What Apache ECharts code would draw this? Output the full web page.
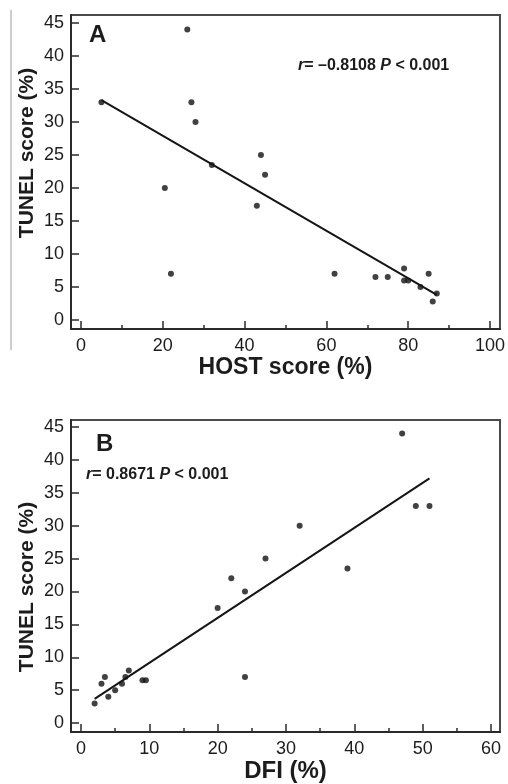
<!DOCTYPE html>
<html>
<head>
<meta charset="utf-8">
<script src="https://cdn.jsdelivr.net/npm/echarts@6/dist/echarts.min.js"></script>
<style>
  html, body { margin: 0; padding: 0; background: #fff; }
  #chart { width: 508px; height: 784px; }
</style>
</head>
<body>
<div id="chart"></div>
<script>
// Panel A: HOST score against TUNEL score
const hostScore   = [5, 26, 27, 28, 32, 44, 45, 20.5, 43, 22, 62, 72, 75, 79, 79, 80, 83, 85, 87, 86];
const tunelScoreA = [33, 44, 33, 30, 23.5, 25, 22, 20, 17.3, 7, 7, 6.5, 6.5, 7.8, 6, 6, 5, 7, 4, 2.8];
const fitHostX = [5, 87];
const fitHostY = [33.3, 3.8];

// Panel B: DFI against TUNEL score
const dfi         = [47, 49, 51, 32, 27, 39, 22, 24, 20, 24, 2, 3, 3.5, 4, 5, 6, 6.5, 7, 9, 9.5];
const tunelScoreB = [44, 33, 33, 30, 25, 23.5, 22, 20, 17.5, 7, 3, 6, 7, 4, 5, 6, 7, 8, 6.5, 6.5];
const fitDfiX = [2, 51];
const fitDfiY = [3.7, 37.2];

// Tick positions
const tunelTicks  = [0, 5, 10, 15, 20, 25, 30, 35, 40, 45];
const hostTicks   = [0, 20, 40, 60, 80, 100];
const hostMinor   = [10, 30, 50, 70, 90];
const dfiTicks    = [0, 10, 20, 30, 40, 50, 60];
const dfiMinor    = [5, 15, 25, 35, 45, 55];

const FONT = "'Liberation Sans', Arial, Helvetica, sans-serif";
const INK = '#1c1c1c';

const zip = (xs, ys) => xs.map((x, i) => [x, ys[i]]);

function majorX(gridIndex, min, max, ticks) {
  return {
    type: 'value', gridIndex, min, max, position: 'bottom',
    splitLine: { show: false },
    axisLine: { show: true, onZero: false, lineStyle: { color: '#2a2a2a', width: 2 } },
    axisTick: { show: true, inside: true, length: 8, customValues: ticks,
                lineStyle: { color: '#2a2a2a', width: 1.5 } },
    axisLabel: { show: true, customValues: ticks, margin: 8,
                 color: INK, fontFamily: FONT, fontSize: 18 }
  };
}
function minorX(gridIndex, min, max, ticks) {
  return {
    type: 'value', gridIndex, min, max, position: 'bottom', offset: 0,
    splitLine: { show: false },
    axisLine: { show: false, onZero: false },
    axisTick: { show: true, inside: true, length: 4, customValues: ticks,
                lineStyle: { color: '#2a2a2a', width: 1.5 } },
    axisLabel: { show: false }
  };
}
function tunelY(gridIndex, min, max) {
  return {
    type: 'value', gridIndex, min, max,
    splitLine: { show: false },
    axisLine: { show: true, onZero: false, lineStyle: { color: '#2a2a2a', width: 2 } },
    axisTick: { show: true, inside: true, length: 8, customValues: tunelTicks,
                lineStyle: { color: '#2a2a2a', width: 1.5 } },
    axisLabel: { show: true, customValues: tunelTicks, margin: 7,
                 color: INK, fontFamily: FONT, fontSize: 18 }
  };
}

const dot = { color: '#111' };
const fitStyle = { color: '#151515', width: 2 };
const titleStyle = { color: INK, fontFamily: FONT, fontSize: 23, fontWeight: 'bold' };

const option = {
  animation: false,
  backgroundColor: '#fff',
  grid: [
    { left: 71, top: 15, width: 430, height: 314, show: true,
      borderColor: '#4a4a4a', borderWidth: 2, backgroundColor: 'transparent' },
    { left: 71, top: 420, width: 429, height: 313, show: true,
      borderColor: '#4a4a4a', borderWidth: 2, backgroundColor: 'transparent' }
  ],
  xAxis: [
    Object.assign(majorX(0, -2.44, 102.44, hostTicks), {
      name: 'HOST score (%)', nameLocation: 'middle', nameGap: 26, nameTextStyle: titleStyle
    }),
    minorX(0, -2.44, 102.44, hostMinor),
    Object.assign(majorX(1, -1.46, 61.32, dfiTicks), {
      name: 'DFI (%)', nameLocation: 'middle', nameGap: 23,
      nameTextStyle: Object.assign({}, titleStyle, { fontSize: 24 })
    }),
    minorX(1, -1.46, 61.32, dfiMinor)
  ],
  yAxis: [
    tunelY(0, -1.36, 46.21),
    tunelY(1, -1.36, 46.06)
  ],
  series: [
    { type: 'scatter', xAxisIndex: 0, yAxisIndex: 0, symbolSize: 6,
      itemStyle: dot, data: zip(hostScore, tunelScoreA) },
    { type: 'line', xAxisIndex: 0, yAxisIndex: 0, symbol: 'none',
      lineStyle: fitStyle, data: zip(fitHostX, fitHostY) },
    { type: 'scatter', xAxisIndex: 2, yAxisIndex: 1, symbolSize: 6,
      itemStyle: dot, data: zip(dfi, tunelScoreB) },
    { type: 'line', xAxisIndex: 2, yAxisIndex: 1, symbol: 'none',
      lineStyle: fitStyle, data: zip(fitDfiX, fitDfiY) }
  ],
  graphic: [
    // thin rule along the left margin
    { type: 'line', shape: { x1: 11, y1: 10, x2: 11, y2: 350 },
      style: { stroke: '#9a9a9a', lineWidth: 1 } },
    // y-axis titles
    { type: 'text', x: 27, y: 153, rotation: Math.PI / 2,
      style: { text: 'TUNEL score (%)', fill: INK, font: 'bold 21px ' + FONT,
               align: 'center', verticalAlign: 'middle' } },
    { type: 'text', x: 27, y: 587, rotation: Math.PI / 2,
      style: { text: 'TUNEL score (%)', fill: INK, font: 'bold 21px ' + FONT,
               align: 'center', verticalAlign: 'middle' } },
    // panel letters
    { type: 'text', x: 89, y: 35,
      style: { text: 'A', fill: INK, font: 'bold 24px ' + FONT,
               align: 'left', verticalAlign: 'middle' } },
    { type: 'text', x: 96, y: 444,
      style: { text: 'B', fill: INK, font: 'bold 24px ' + FONT,
               align: 'left', verticalAlign: 'middle' } },
    // correlation statements
    { type: 'text', x: 298, y: 66,
      style: { text: '{i|r}= –0.8108 {i|P} < 0.001', fill: INK,
               font: 'bold 16px ' + FONT, align: 'left', verticalAlign: 'middle',
               rich: { i: { fontStyle: 'italic', fontWeight: 'bold', fontSize: 16,
                            fontFamily: FONT, fill: INK } } } },
    { type: 'text', x: 86, y: 475,
      style: { text: '{i|r}= 0.8671 {i|P} < 0.001', fill: INK,
               font: 'bold 16px ' + FONT, align: 'left', verticalAlign: 'middle',
               rich: { i: { fontStyle: 'italic', fontWeight: 'bold', fontSize: 16,
                            fontFamily: FONT, fill: INK } } } }
  ]
};

echarts.init(document.getElementById('chart'), null, { renderer: 'canvas' }).setOption(option);
</script>
</body>
</html>
